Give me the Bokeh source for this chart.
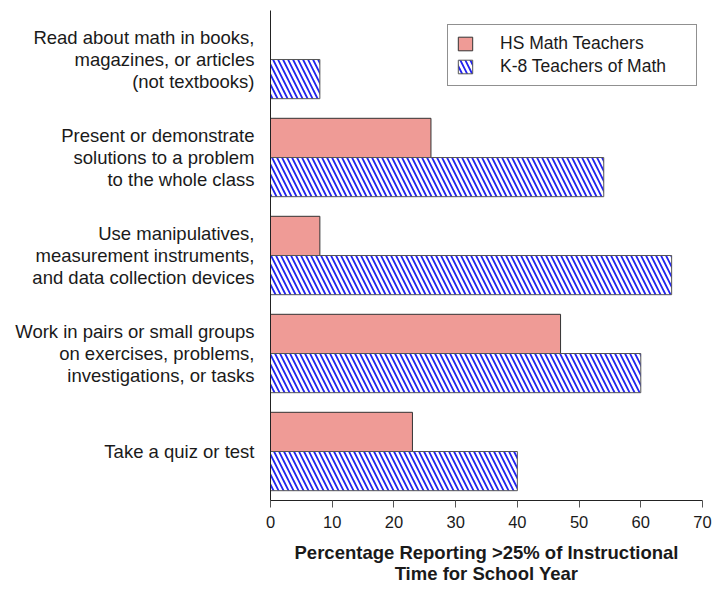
from bokeh.plotting import figure
from bokeh.models import ColumnDataSource, Range1d, FactorRange, FixedTicker, Legend, LegendItem
from bokeh.transform import dodge
from bokeh.embed import file_html
from bokeh.resources import INLINE

# Data (bottom to top)
categories = [
    "Take a quiz or test",
    "Work in pairs or small groups\non exercises, problems,\ninvestigations, or tasks",
    "Use manipulatives,\nmeasurement instruments,\nand data collection devices",
    "Present or demonstrate\nsolutions to a problem\nto the whole class",
    "Read about math in books,\nmagazines, or articles\n(not textbooks)",
]
hs_values = [23, 47, 8, 26, 0]
k8_values = [40, 60, 65, 54, 8]
series_names = ["HS Math Teachers", "K-8 Teachers of Math"]
x_ticks = [0, 10, 20, 30, 40, 50, 60, 70]

FONT = "Liberation Sans"
TXT = "#1a1a1a"

src = ColumnDataSource(dict(cat=categories, hs=hs_values, k8=k8_values))

p = figure(
    y_range=FactorRange(factors=categories, range_padding=0),
    x_range=Range1d(0, 70),
    frame_width=432, frame_height=490,
    min_border_left=270, min_border_right=10, min_border_top=10, min_border_bottom=84,
    output_backend="svg", toolbar_location=None,
)

r_hs = p.hbar(y=dodge("cat", 0.2, range=p.y_range), right="hs", left=0, height=0.4,
              source=src, fill_color="#EF9B96", line_color="#333333", line_width=1)
r_k8 = p.hbar(y=dodge("cat", -0.2, range=p.y_range), right="k8", left=0, height=0.4,
              source=src, fill_color="white", line_color="#555555", line_width=1,
              hatch_pattern="left_diagonal_line", hatch_color="#2222ee",
              hatch_scale=10, hatch_weight=1.8)

p.xgrid.visible = False
p.ygrid.visible = False
p.outline_line_color = None

xa = p.xaxis[0]
xa.ticker = FixedTicker(ticks=x_ticks)
xa.minor_tick_line_color = None
xa.major_tick_out = 7
xa.major_tick_in = 0
xa.axis_line_color = "#222222"
xa.major_tick_line_color = "#555555"
xa.major_label_text_font = FONT
xa.major_label_text_font_size = "16.5px"
xa.major_label_text_color = TXT
xa.major_label_standoff = 8
xa.axis_label = "Percentage Reporting >25% of Instructional\nTime for School Year"
xa.axis_label_text_font = FONT
xa.axis_label_text_font_size = "18.5px"
xa.axis_label_text_font_style = "bold"
xa.axis_label_text_color = TXT
xa.axis_label_text_line_height = 1.04
xa.axis_label_standoff = 11

ya = p.yaxis[0]
ya.major_tick_line_color = None
ya.minor_tick_line_color = None
ya.axis_line_color = "#222222"
ya.major_label_text_font = FONT
ya.major_label_text_font_size = "18.5px"
ya.major_label_text_color = TXT
ya.major_label_text_line_height = 1.04
ya.major_label_standoff = 10

legend = Legend(
    items=[LegendItem(label=series_names[0], renderers=[r_hs]),
           LegendItem(label=series_names[1], renderers=[r_k8])],
    location=(177, 414), margin=0, padding=8, spacing=2,
    glyph_width=18, glyph_height=17, label_standoff=26, label_width=188,
    label_text_font=FONT, label_text_font_size="17.5px", label_text_color=TXT,
    border_line_color="#222222", border_line_width=1,
    background_fill_color="white", background_fill_alpha=1,
)
p.add_layout(legend, "center")

open("out.html", "w").write(file_html(p, INLINE))
